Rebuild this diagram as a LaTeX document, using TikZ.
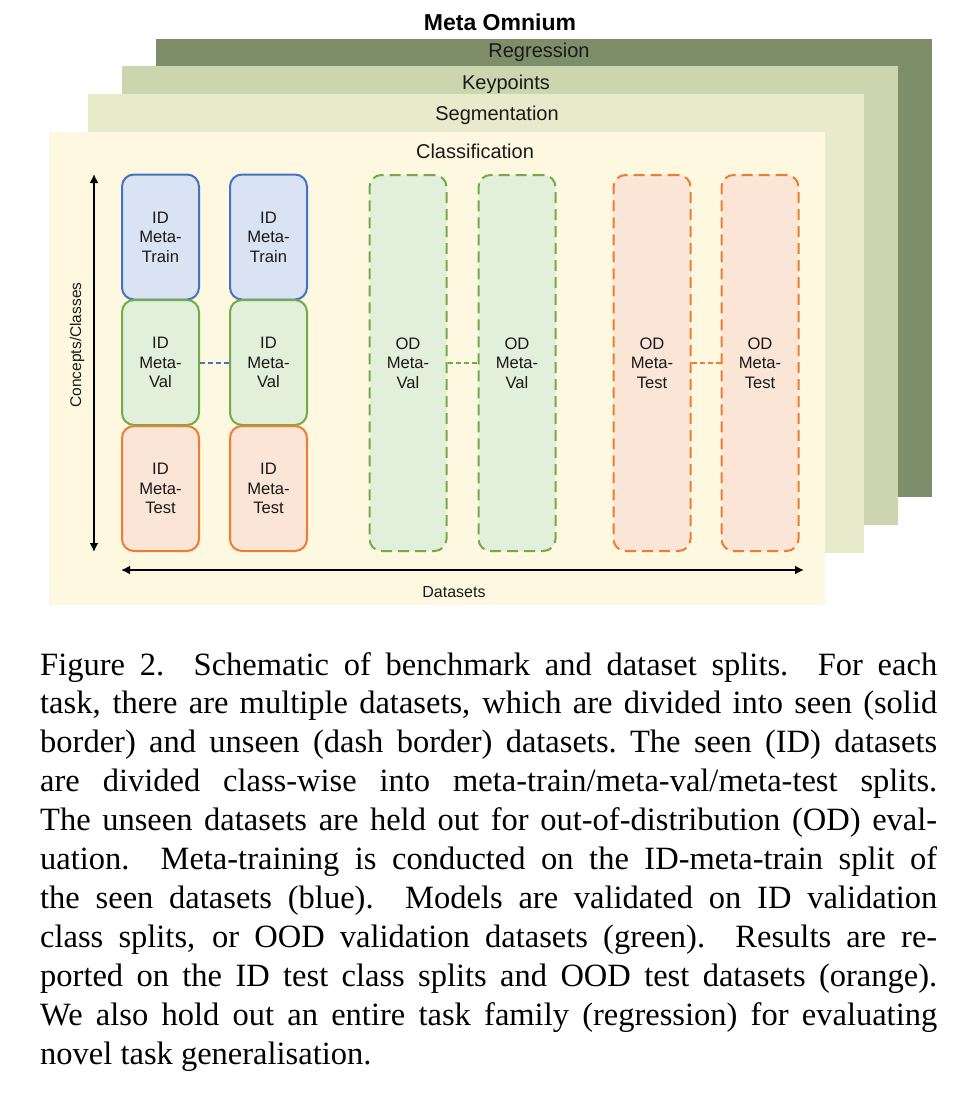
\documentclass[tikz,border=0pt]{standalone}
\usepackage{fontspec}
\setmainfont{Liberation Sans}
\newfontfamily\capfont{Liberation Serif}
\usetikzlibrary{arrows.meta}
\definecolor{regc}{HTML}{7E8E6A}
\definecolor{keyc}{HTML}{CDD5AE}
\definecolor{segc}{HTML}{E7EBCB}
\definecolor{clsc}{HTML}{FEF8E0}
\definecolor{bluefill}{HTML}{DAE3F3}
\definecolor{blueline}{HTML}{4472C4}
\definecolor{greenfill}{HTML}{E2EFDA}
\definecolor{greenline}{HTML}{70AD47}
\definecolor{orangefill}{HTML}{FBE5D6}
\definecolor{orangeline}{HTML}{ED7D31}
\definecolor{txt}{HTML}{1A1A1A}
\begin{document}
\begin{tikzpicture}[x=1pt,y=-1pt,
  laylabel/.style={inner sep=0, anchor=base, text=txt, font=\fontsize{20}{24}\selectfont},
  splitbox/.style={draw, line width=2pt, rounded corners=12pt, minimum width=77pt,
    align=center, inner sep=0, text=txt, font=\fontsize{16.6}{19.5}\selectfont},
  shortbox/.style={splitbox, minimum height=125pt},
  tallbox/.style={splitbox, minimum height=376pt, dash pattern=on 11pt off 6pt},
  trainbox/.style={shortbox, draw=blueline, fill=bluefill},
  valbox/.style={shortbox, draw=greenline, fill=greenfill},
  testbox/.style={shortbox, draw=orangeline, fill=orangefill},
  odvalbox/.style={tallbox, draw=greenline, fill=greenfill},
  odtestbox/.style={tallbox, draw=orangeline, fill=orangefill},
  link/.style={line width=2pt, dash pattern=on 5pt off 3pt},
  axisarrow/.style={line width=2.5pt, {Latex[length=9pt,width=9pt]}-{Latex[length=9pt,width=9pt]}}
]
\useasboundingbox (0,0) rectangle (961,1113);
\fill[white] (0,0) rectangle (961,1113);

% task layers
\fill[regc] (156,39) rectangle (932,497);
\fill[keyc] (122,66) rectangle (898,525);
\fill[segc] (88,94) rectangle (864,553);
\fill[clsc] (49,132) rectangle (825,605);

\node[inner sep=0, anchor=base, font=\bfseries\fontsize{23}{27}\selectfont] (title) at (500,31) {Meta Omnium};
\node[laylabel] (lreg) at (539,58) {Regression};
\node[laylabel] (lkey) at (506,90) {Keypoints};
\node[laylabel] (lseg) at (497,121) {Segmentation};
\node[laylabel] (lcls) at (475,158) {Classification};

% ID splits
\node[trainbox] (tr1) at (160.5,237) {ID\\Meta-\\Train};
\node[trainbox] (tr2) at (268.5,237) {ID\\Meta-\\Train};
\node[valbox] (va1) at (160.5,362.5) {ID\\Meta-\\Val};
\node[valbox] (va2) at (268.5,362.5) {ID\\Meta-\\Val};
\node[testbox] (te1) at (160.5,488.5) {ID\\Meta-\\Test};
\node[testbox] (te2) at (268.5,488.5) {ID\\Meta-\\Test};

% OD splits
\node[odvalbox] (ov1) at (408,363) {OD\\Meta-\\Val};
\node[odvalbox] (ov2) at (517,363) {OD\\Meta-\\Val};
\node[odtestbox] (ot1) at (652,363) {OD\\Meta-\\Test};
\node[odtestbox] (ot2) at (760,363) {OD\\Meta-\\Test};

% links
\draw[link, blueline] (va1.east) -- (va2.west);
\draw[link, greenline] (ov1.east) -- (ov2.west);
\draw[link, orangeline] (ot1.east) -- (ot2.west);

% axes
\coordinate (vtop) at (94,174);
\coordinate (vbot) at (94,552);
\coordinate (hleft) at (121,570);
\coordinate (hright) at (804,570);
\draw[axisarrow] (vtop) -- (vbot);
\draw[axisarrow] (hleft) -- (hright);
\node[rotate=90, inner sep=0, text=txt, font=\fontsize{15.5}{18}\selectfont] (yl) at (77,345) {Concepts/Classes};
\node[inner sep=0, anchor=base, text=txt, font=\fontsize{16}{19}\selectfont] (xl) at (454,597) {Datasets};

% caption
\node[inner sep=0, anchor=base west] (caption) at (40,675) {\parbox[t]{897pt}{\capfont\fontsize{32.5}{38.9}\selectfont
\makebox[\linewidth][s]{Figure 2.\ \ Schematic of benchmark and dataset splits.\ \ For each}\\
\makebox[\linewidth][s]{task, there are multiple datasets, which are divided into seen (solid}\\
\makebox[\linewidth][s]{border) and unseen (dash border) datasets.\ The seen (ID) datasets}\\
\makebox[\linewidth][s]{are divided class-wise into meta-train/meta-val/meta-test splits.}\\
\makebox[\linewidth][s]{The unseen datasets are held out for out-of-distribution (OD) eval-}\\
\makebox[\linewidth][s]{uation.\ \ Meta-training is conducted on the ID-meta-train split of}\\
\makebox[\linewidth][s]{the seen datasets (blue).\ \ Models are validated on ID validation}\\
\makebox[\linewidth][s]{class splits, or OOD validation datasets (green).\ \ Results are re-}\\
\makebox[\linewidth][s]{ported on the ID test class splits and OOD test datasets (orange).}\\
\makebox[\linewidth][s]{We also hold out an entire task family (regression) for evaluating}\\
novel task generalisation.}};
\end{tikzpicture}
\end{document}
